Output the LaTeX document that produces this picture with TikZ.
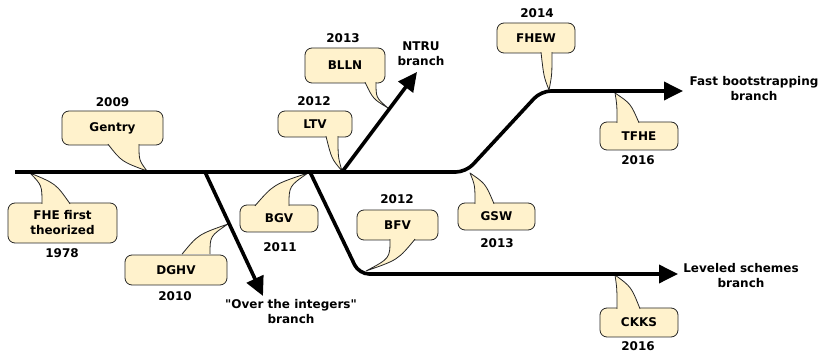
\documentclass[tikz,border=0pt]{standalone}
\usepackage{fontspec}
\setmainfont{DejaVu Sans}[Ligatures=TeXOff]
\usetikzlibrary{arrows.meta,calc}
\definecolor{bubblefill}{HTML}{FFF2CC}
\newcommand{\tlfont}{\fontsize{12}{15}\selectfont\bfseries}
\tikzset{
	bubble/.style={draw=black!85, fill=bubblefill, line width=0.8pt, rounded corners=7pt, inner sep=0pt, font=\tlfont, align=center},
	year/.style={font=\tlfont},
	branchname/.style={font=\tlfont, align=center},
	branch/.style={line width=3.6pt, rounded corners=10pt, -{Triangle[length=19pt,width=18pt]}},
	tailline/.style={draw=black!85, line width=0.8pt, line join=round}
}
\newcommand{\bubbletail}[3]{%
	\coordinate (tf) at (#1);
	\coordinate (tn) at (#2);
	\coordinate (tt) at (#3);
	\fill[bubblefill] (tf) .. controls ($(tf)!0.5!(tt)!0.3!(tf |- tt)$) .. (tt) .. controls ($(tn)!0.6!(tn |- tt)$) .. (tn) -- cycle;
	\path[tailline] (tf) .. controls ($(tf)!0.5!(tt)!0.3!(tf |- tt)$) .. (tt) .. controls ($(tn)!0.6!(tn |- tt)$) .. (tn);
}
\begin{document}
\begin{tikzpicture}[x=1pt,y=1pt]
	\useasboundingbox (0,0) rectangle (822,353);
	
	\node[bubble, minimum width=109, minimum height=40] (fhe) at (62.5,130) {FHE first\\theorized};
	\node[bubble, minimum width=101, minimum height=34] (gentry) at (112.5,225) {Gentry};
	\node[bubble, minimum width=102, minimum height=30] (dghv) at (176,83) {DGHV};
	\node[bubble, minimum width=78, minimum height=27] (bgv) at (279,134.5) {BGV};
	\node[bubble, minimum width=74, minimum height=26] (ltv) at (315,229) {LTV};
	\node[bubble, minimum width=80, minimum height=35] (blln) at (345,287.5) {BLLN};
	\node[bubble, minimum width=81, minimum height=30] (bfv) at (397.5,128) {BFV};
	\node[bubble, minimum width=77, minimum height=27] (gsw) at (496.5,136.5) {GSW};
	\node[bubble, minimum width=78, minimum height=30] (fhew) at (536,315) {FHEW};
	\node[bubble, minimum width=78, minimum height=28] (tfhe) at (639,217) {TFHE};
	\node[bubble, minimum width=78, minimum height=29] (ckks) at (639,30.5) {CKKS};
	
	\bubbletail{70,149.2}{42,149.2}{30,180}
	\bubbletail{108,208.8}{139,208.8}{147,182}
	\bubbletail{182,98.8}{210,98.8}{228,129}
	\bubbletail{255,147.2}{289,147.2}{308,180}
	\bubbletail{326,216.8}{338,216.8}{342,182}
	\bubbletail{365,270.8}{376,270.8}{388,245}
	\bubbletail{415,113.8}{390,113.8}{366,82}
	\bubbletail{494,149.2}{475,149.2}{470,180}
	\bubbletail{541,300.8}{552,300.8}{549,263}
	\bubbletail{639,230.2}{617,230.2}{615,260}
	\bubbletail{640,44.2}{617,44.2}{615,78}
	
	\node[year] (fheyear) at (62,100) {1978};
	\node[year] (gentryyear) at (112.5,251) {2009};
	\node[year] (dghvyear) at (175,57) {2010};
	\node[year] (bgvyear) at (280,106) {2011};
	\node[year] (ltvyear) at (314,252) {2012};
	\node[year] (bllnyear) at (343,315) {2013};
	\node[year] (bfvyear) at (397,154) {2012};
	\node[year] (gswyear) at (497,110) {2013};
	\node[year] (fhewyear) at (537,340) {2014};
	\node[year] (tfheyear) at (638,193) {2016};
	\node[year] (ckksyear) at (638,7) {2016};
	
	\coordinate (origin) at (15,181);
	\coordinate (bendlow) at (466,181);
	\coordinate (bendhigh) at (541,262);
	\coordinate (fastend) at (683,262);
	\coordinate (intfork) at (205,181);
	\coordinate (intend) at (263,57);
	\coordinate (levfork) at (310,181);
	\coordinate (levbend) at (359,79);
	\coordinate (levend) at (678,79);
	\coordinate (ntrufork) at (342,181);
	\coordinate (ntruend) at (417,281);
	
	\draw[branch] (origin) -- (bendlow) -- (bendhigh) -- (fastend);
	\draw[branch] (intfork) -- (intend);
	\draw[branch] (levfork) -- (levbend) -- (levend);
	\draw[branch] (ntrufork) -- (ntruend);
	
	\node[branchname] (fastname) at (754,264.5) {Fast bootstrapping\\branch};
	\node[branchname] (ntruname) at (421,299) {NTRU\\branch};
	\node[branchname] (intname) at (291,41) {"Over the integers"\\branch};
	\node[branchname] (levname) at (741,77.5) {Leveled schemes\\branch};
\end{tikzpicture}
\end{document}
